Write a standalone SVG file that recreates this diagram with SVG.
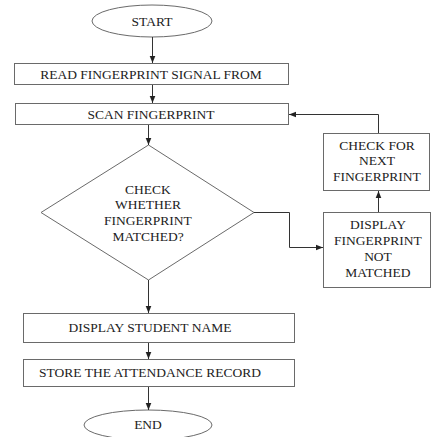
<svg xmlns="http://www.w3.org/2000/svg" width="433" height="437" viewBox="0 0 433 437">
<defs>
<style>
.s{fill:#fff;stroke:#6a6a6a;stroke-width:1}
.c{fill:none;stroke:#333;stroke-width:1}
.t{font-family:'Liberation Serif','Times New Roman','DejaVu Serif',serif;font-size:13.5px;fill:#222;text-anchor:middle}
</style>
<marker id="a" viewBox="0 0 10 10" refX="10" refY="5" markerWidth="7" markerHeight="7" orient="auto" markerUnits="userSpaceOnUse">
<path d="M0,1 L10,5 L0,9 Z" fill="#222"/>
</marker>
</defs>
<rect width="433" height="437" fill="#fff"/>
<g class="t">
<g id="start"><ellipse class="s" cx="152" cy="21" rx="60" ry="16"/><text x="152" y="26">START</text></g>
<g id="read"><rect class="s" x="14.5" y="63.5" width="274" height="21"/><text x="151" y="79">READ FINGERPRINT SIGNAL FROM</text></g>
<g id="scan"><rect class="s" x="15.5" y="103.5" width="273" height="21"/><text x="151" y="119">SCAN FINGERPRINT</text></g>
<g id="check"><polygon class="s" points="148.5,145 41,212.5 148.5,280 254,212.5"/>
<text x="148" y="194">CHECK</text><text x="148" y="209">WHETHER</text><text x="148" y="225">FINGERPRINT</text><text x="148" y="241">MATCHED?</text></g>
<g id="next"><rect class="s" x="323.5" y="133.5" width="106" height="57"/>
<text x="377" y="150">CHECK FOR</text><text x="377" y="165">NEXT</text><text x="377" y="181">FINGERPRINT</text></g>
<g id="notmatched"><rect class="s" x="323.5" y="212.5" width="107" height="75"/>
<text x="378" y="229">DISPLAY</text><text x="378" y="245">FINGERPRINT</text><text x="378" y="261">NOT</text><text x="378" y="277">MATCHED</text></g>
<g id="student"><rect class="s" x="23.5" y="313.5" width="271" height="29"/><text x="150" y="332">DISPLAY STUDENT NAME</text></g>
<g id="store"><rect class="s" x="23.5" y="359.5" width="271" height="27"/><text x="150" y="377">STORE THE ATTENDANCE RECORD</text></g>
<g id="end"><ellipse class="s" cx="148" cy="425" rx="64" ry="15"/><text x="148" y="429">END</text></g>
</g>
<g id="connectors">
<path class="c" d="M152.5,37 V63" marker-end="url(#a)"/>
<path class="c" d="M152.5,85 V103" marker-end="url(#a)"/>
<path class="c" d="M148.5,125 V145" marker-end="url(#a)"/>
<path class="c" d="M148.5,280 V313" marker-end="url(#a)"/>
<path class="c" d="M148.5,343 V359" marker-end="url(#a)"/>
<path class="c" d="M148.5,387 V410" marker-end="url(#a)"/>
<path class="c" d="M254,212.5 H289.5 V247.5 H323" marker-end="url(#a)"/>
<path class="c" d="M378.5,212 V191" marker-end="url(#a)"/>
<path class="c" d="M378.5,133 V114.5 H289" marker-end="url(#a)"/>
</g>
</svg>
